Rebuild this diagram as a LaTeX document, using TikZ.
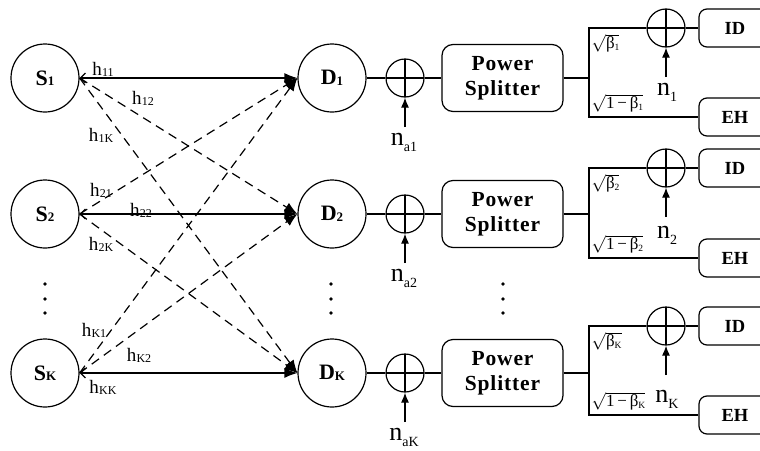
\documentclass[tikz,border=0pt]{standalone}
\usepackage{fontspec}
\setmainfont{Liberation Serif}
\usetikzlibrary{arrows.meta}
\newcommand\ssub[1]{\raisebox{-0.5pt}{\fontsize{13}{13}\selectfont #1}}
\newcommand\hsub[1]{\kern0.3pt\raisebox{-1pt}{\fontsize{12}{12}\selectfont #1}}
\newcommand\nsub[1]{\raisebox{-6pt}{\fontsize{14}{14}\selectfont #1}}
\newcommand\bsub[1]{\raisebox{-2pt}{\fontsize{9.5}{9.5}\selectfont #1}}
\begin{document}
\begin{tikzpicture}[x=1pt,y=-1pt,line width=1.2pt,
  circ/.style={circle,draw,minimum size=68pt,inner sep=0pt,font=\fontsize{22}{22}\selectfont\bfseries},
  adder/.style={circle,draw,minimum size=38pt,inner sep=0pt,
    path picture={\draw (path picture bounding box.north)--(path picture bounding box.south)
      (path picture bounding box.west)--(path picture bounding box.east);}},
  psbox/.style={draw,rounded corners=11pt,minimum width=121pt,minimum height=67pt,align=center,
    font=\fontsize{21.5}{25}\selectfont\bfseries\addfontfeatures{LetterSpace=4}},
  outbox/.style={draw,rounded corners=8pt,minimum width=72pt,minimum height=38pt,
    font=\fontsize{18.5}{18.5}\selectfont\bfseries},
  link/.style={{Straight Barb[length=5pt,width=10pt]}-{Latex[length=13pt,width=10pt]}},
  crossl/.style={-{Latex[length=13pt,width=10pt]},dash pattern=on 9pt off 6pt},
  noise/.style={-{Latex[length=10pt,width=8pt]}},
  hl/.style={font=\fontsize{19}{19}\selectfont,inner sep=0pt},
  nl/.style={font=\fontsize{26}{26}\selectfont,inner sep=0pt},
  sl/.style={font=\fontsize{17}{17}\selectfont,inner sep=0pt},
  ]
\useasboundingbox (0,0) rectangle (760,450);
\clip (0,0) rectangle (760,450);
% sources and destinations
\node[circ] (S1) at (45,78) {S\ssub{1}};
\node[circ] (S2) at (45,214) {S\ssub{2}};
\node[circ] (SK) at (45,373) {S\ssub{K}};
\node[circ] (D1) at (332,78) {D\ssub{1}};
\node[circ] (D2) at (332,214) {D\ssub{2}};
\node[circ] (DK) at (332,373) {D\ssub{K}};
% links
\draw[link] (S1.east) -- (D1.west);
\draw[link] (S2.east) -- (D2.west);
\draw[link] (SK.east) -- (DK.west);
\draw[crossl] (S1.east) -- (D2.west);
\draw[crossl] (S1.east) -- (DK.west);
\draw[crossl] (S2.east) -- (D1.west);
\draw[crossl] (S2.east) -- (DK.west);
\draw[crossl] (SK.east) -- (D1.west);
\draw[crossl] (SK.east) -- (D2.west);
% channel labels
\node[hl] (h11) at (103,69) {h\hsub{11}};
\node[hl] (h12) at (143,98) {h\hsub{12}};
\node[hl] (h1K) at (101,135) {h\hsub{1K}};
\node[hl] (h21) at (101,190) {h\hsub{21}};
\node[hl] (h22) at (141,210) {h\hsub{22}};
\node[hl] (h2K) at (101,244) {h\hsub{2K}};
\node[hl] (hK1) at (94,330) {h\hsub{K1}};
\node[hl] (hK2) at (139,355) {h\hsub{K2}};
\node[hl] (hKK) at (103,387) {h\hsub{KK}};
% vertical dots
\foreach \x in {45,331,503}{
  \fill (\x,284) circle (1.9);
  \fill (\x,299) circle (1.9);
  \fill (\x,313) circle (1.9);
}
% receiver chains
\foreach \i/\y/\yi/\ye/\ny in {1/78/28/117/95, 2/214/168/258/238, K/373/326/415/402}{
  \node[adder] (a\i) at (405,\y) {};
  \node[psbox] (ps\i) at (502.5,\y) {Power\\Splitter};
  \coordinate (j\i) at (589,\y);
  \node[adder] (b\i) at (666,\yi) {};
  \node[outbox] (id\i) at (735,\yi) {ID};
  \node[outbox] (eh\i) at (735,\ye) {EH};
  \coordinate (na\i) at (405,\y+49);
  \coordinate (nb\i) at (666,\yi+49);
  \draw (D\i.east) -- (a\i.west) (a\i.east) -- (ps\i.west) (ps\i.east) -- (j\i)
        (j\i) |- (b\i.west) (b\i.east) -- (id\i.west) (j\i) |- (eh\i.west);
  \draw[noise] (na\i) -- (a\i.south);
  \draw[noise] (nb\i) -- (b\i.south);
  \node[nl,anchor=base] (nal\i) at (404,\y+67) {n\nsub{a\i}};
  \node[nl,anchor=base] (nbl\i) at (667,\ny) {n\nsub{\i}};
  \node[sl,anchor=west] (sb\i) at (591,\yi+15) {$\sqrt{\mbox{β\bsub{\i}}}$};
  \node[sl,anchor=west] (se\i) at (591,\ye-14) {$\sqrt{\mbox{1\,−\,β\bsub{\i}}}$};
}
\end{tikzpicture}
\end{document}
